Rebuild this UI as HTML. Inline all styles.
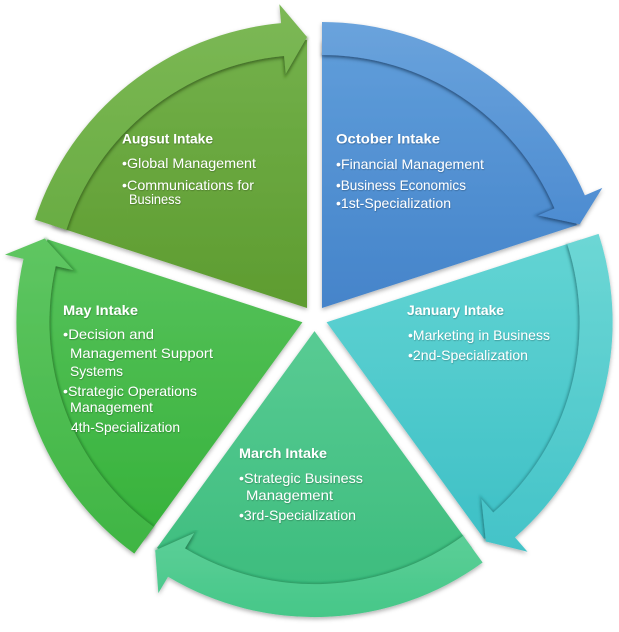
<!DOCTYPE html>
<html><head><meta charset="utf-8"><style>
html,body{margin:0;padding:0;background:#fff;}
svg{display:block;}
text{font-family:"Liberation Sans",Arial,sans-serif;font-size:14px;fill:#fff;}
.t{font-weight:bold;}
</style></head><body>
<svg width="619" height="632" viewBox="0 0 619 632" xmlns="http://www.w3.org/2000/svg">
<defs>
<filter id="sh" x="-10%" y="-10%" width="120%" height="125%">
<feDropShadow dx="0" dy="2" stdDeviation="2" flood-color="#000" flood-opacity="0.3"/>
</filter>
<filter id="bl" x="-5%" y="-5%" width="110%" height="110%"><feGaussianBlur stdDeviation="1.2"/></filter>
<filter id="ts" x="-5%" y="-20%" width="110%" height="140%"><feDropShadow dx="0.5" dy="0.8" stdDeviation="0.6" flood-color="#000" flood-opacity="0.3"/></filter>
<linearGradient id="gOb" x1="0" y1="0" x2="0" y2="1"><stop offset="0" stop-color="#5f9dda"/><stop offset="1" stop-color="#4584ca"/></linearGradient>
<linearGradient id="gOa" x1="0" y1="0" x2="0" y2="1"><stop offset="0" stop-color="#6aa3dc"/><stop offset="1" stop-color="#4d8cd1"/></linearGradient>
<linearGradient id="gJb" x1="0" y1="0" x2="0" y2="1"><stop offset="0" stop-color="#62d4d3"/><stop offset="1" stop-color="#3ec0c6"/></linearGradient>
<linearGradient id="gJa" x1="0" y1="0" x2="0" y2="1"><stop offset="0" stop-color="#6dd7d5"/><stop offset="1" stop-color="#43c3c8"/></linearGradient>
<linearGradient id="gMb" x1="0" y1="0" x2="0" y2="1"><stop offset="0" stop-color="#58cb93"/><stop offset="1" stop-color="#3cbc7d"/></linearGradient>
<linearGradient id="gMa" x1="0" y1="0" x2="0" y2="1"><stop offset="0" stop-color="#5ccf98"/><stop offset="1" stop-color="#46c788"/></linearGradient>
<linearGradient id="gYb" x1="0" y1="0" x2="0" y2="1"><stop offset="0" stop-color="#58c25b"/><stop offset="1" stop-color="#36b23b"/></linearGradient>
<linearGradient id="gYa" x1="0" y1="0" x2="0" y2="1"><stop offset="0" stop-color="#5fc662"/><stop offset="1" stop-color="#3fb543"/></linearGradient>
<linearGradient id="gAb" x1="0" y1="0" x2="0" y2="1"><stop offset="0" stop-color="#72b04a"/><stop offset="1" stop-color="#5e9c30"/></linearGradient>
<linearGradient id="gAa" x1="0" y1="0" x2="0" y2="1"><stop offset="0" stop-color="#7cb855"/><stop offset="1" stop-color="#6aad43"/></linearGradient>
</defs>

<!-- October -->
<g filter="url(#sh)">
<path d="M322,308 L322,40 A268,268 0 0 1 576.88,225.18 Z" fill="url(#gOb)"/>
</g>
<path d="M322,55 A253,253 0 0 1 554.54,208.33 L538,215.42 L579.74,224.26" fill="none" stroke="#1f4f86" stroke-opacity="0.55" stroke-width="3" filter="url(#bl)"/>
<g filter="url(#sh)">
<path d="M322,22 A286,286 0 0 1 584.87,195.33 L602.34,187.85 L579.74,224.26 L538,215.42 L554.54,208.33 A253,253 0 0 0 322,55 Z" fill="url(#gOa)"/>
</g>

<!-- January -->
<g filter="url(#sh)">
<path d="M326.6,322.2 L581.48,239.38 A268,268 0 0 1 484.13,539.02 Z" fill="url(#gJb)"/>
</g>
<path d="M567.22,244.02 A253,253 0 0 1 493.25,512.56 L481.39,499.02 L485.89,541.44" fill="none" stroke="#1f7f84" stroke-opacity="0.5" stroke-width="3" filter="url(#bl)"/>
<g filter="url(#sh)">
<path d="M598.6,233.82 A286,286 0 0 1 514.99,537.39 L527.5,551.69 L485.89,541.44 L481.39,499.02 L493.25,512.56 A253,253 0 0 0 567.22,244.02 Z" fill="url(#gJa)"/>
</g>

<!-- March -->
<g filter="url(#sh)">
<path d="M314.5,331.1 L472.03,547.92 A268,268 0 0 1 156.97,547.92 Z" fill="url(#gMb)"/>
</g>
<path d="M463.21,535.78 A253,253 0 0 1 184.95,548.42 L194.17,532.96 L155.21,550.34" fill="none" stroke="#1b7a4c" stroke-opacity="0.45" stroke-width="3" filter="url(#bl)"/>
<g filter="url(#sh)">
<path d="M482.61,562.48 A286,286 0 0 1 168.06,576.76 L158.33,593.08 L155.21,550.34 L194.17,532.96 L184.95,548.42 A253,253 0 0 0 463.21,535.78 Z" fill="url(#gMa)"/>
</g>

<!-- May -->
<g filter="url(#sh)">
<path d="M302.4,322.2 L144.87,539.02 A268,268 0 0 1 47.52,239.38 Z" fill="url(#gYb)"/>
</g>
<path d="M153.69,526.88 A253,253 0 0 1 55.68,266.15 L73.24,270.14 L44.66,238.46" fill="none" stroke="#1c6e20" stroke-opacity="0.45" stroke-width="3" filter="url(#bl)"/>
<g filter="url(#sh)">
<path d="M134.29,553.58 A286,286 0 0 1 23.5,258.84 L4.98,254.63 L44.66,238.46 L73.24,270.14 L55.68,266.15 A253,253 0 0 0 153.69,526.88 Z" fill="url(#gYa)"/>
</g>

<!-- August -->
<g filter="url(#sh)">
<path d="M307,308 L52.12,225.18 A268,268 0 0 1 307,40 Z" fill="url(#gAb)"/>
</g>
<path d="M66.38,229.82 A253,253 0 0 1 284.07,56.04 L285.7,73.97 L307,37" fill="none" stroke="#3a6b1a" stroke-opacity="0.5" stroke-width="3" filter="url(#bl)"/>
<g filter="url(#sh)">
<path d="M35,219.62 A286,286 0 0 1 281.08,23.18 L279.36,4.26 L307,37 L285.7,73.97 L284.07,56.04 A253,253 0 0 0 66.38,229.82 Z" fill="url(#gAa)"/>
</g>

<g filter="url(#ts)">
<!-- August text -->
<text class="t" x="122" y="143.5" textLength="91" lengthAdjust="spacingAndGlyphs">Augsut Intake</text>
<text x="122" y="168" textLength="134" lengthAdjust="spacingAndGlyphs">•Global Management</text>
<text x="122" y="190" textLength="132" lengthAdjust="spacingAndGlyphs">•Communications for</text>
<text x="129" y="204" textLength="52" lengthAdjust="spacingAndGlyphs">Business</text>

<!-- October text -->
<text class="t" x="336" y="143.5" textLength="104" lengthAdjust="spacingAndGlyphs">October Intake</text>
<text x="336" y="169" textLength="148" lengthAdjust="spacingAndGlyphs">•Financial Management</text>
<text x="336" y="190" textLength="130" lengthAdjust="spacingAndGlyphs">•Business Economics</text>
<text x="336" y="208" textLength="115" lengthAdjust="spacingAndGlyphs">•1st-Specialization</text>

<!-- January text -->
<text class="t" x="407" y="315" textLength="97" lengthAdjust="spacingAndGlyphs">January Intake</text>
<text x="408" y="340" textLength="142" lengthAdjust="spacingAndGlyphs">•Marketing in Business</text>
<text x="408" y="360" textLength="120" lengthAdjust="spacingAndGlyphs">•2nd-Specialization</text>

<!-- March text -->
<text class="t" x="239" y="458" textLength="88" lengthAdjust="spacingAndGlyphs">March Intake</text>
<text x="239" y="483" textLength="124" lengthAdjust="spacingAndGlyphs">•Strategic Business</text>
<text x="246" y="500" textLength="87" lengthAdjust="spacingAndGlyphs">Management</text>
<text x="239" y="520" textLength="117" lengthAdjust="spacingAndGlyphs">•3rd-Specialization</text>

<!-- May text -->
<text class="t" x="63" y="315" textLength="75" lengthAdjust="spacingAndGlyphs">May Intake</text>
<text x="63" y="339" textLength="91" lengthAdjust="spacingAndGlyphs">•Decision and</text>
<text x="70" y="358" textLength="143" lengthAdjust="spacingAndGlyphs">Management Support</text>
<text x="70" y="376" textLength="53" lengthAdjust="spacingAndGlyphs">Systems</text>
<text x="63" y="396" textLength="134" lengthAdjust="spacingAndGlyphs">•Strategic Operations</text>
<text x="70" y="412" textLength="83" lengthAdjust="spacingAndGlyphs">Management</text>
<text x="71" y="432" textLength="109" lengthAdjust="spacingAndGlyphs">4th-Specialization</text>
</g>
</svg>
</body></html>
